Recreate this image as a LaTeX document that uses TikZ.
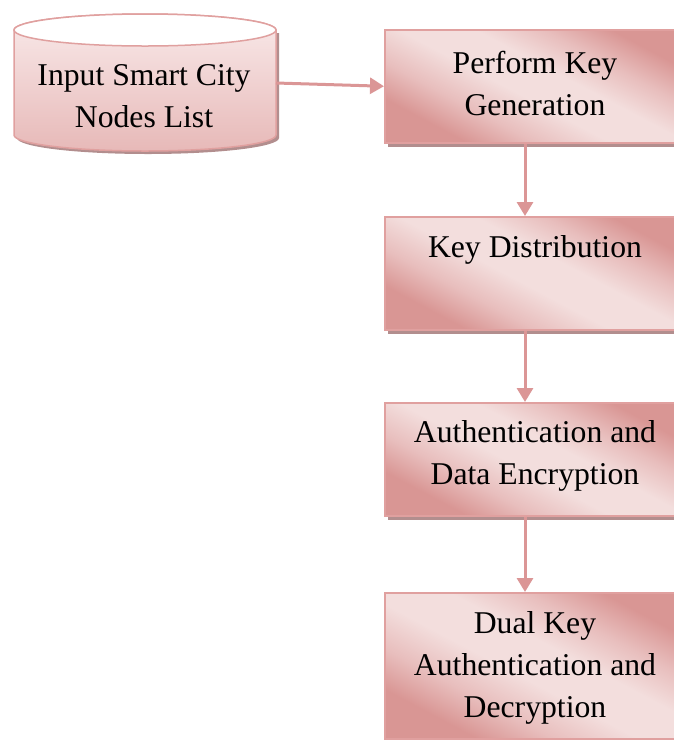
\documentclass[tikz,border=0pt]{standalone}
\usepackage{fontspec}
\setmainfont{Liberation Serif}
\usetikzlibrary{arrows.meta,shadows}

\definecolor{pkdark}{RGB}{217,150,148}
\definecolor{pkmid}{RGB}{232,190,189}
\definecolor{pklight}{RGB}{243,222,221}
\definecolor{pkline}{RGB}{224,160,159}
\definecolor{pkshadow}{RGB}{178,142,142}
\definecolor{pkarrow}{RGB}{219,150,150}
\definecolor{cyltop}{RGB}{249,234,234}
\definecolor{cylbot}{RGB}{231,185,184}

\pgfdeclarehorizontalshading{boxshade}{100bp}{%
  color(0bp)=(pkdark); color(27bp)=(pkdark); color(36bp)=(pkmid);
  color(46bp)=(pklight); color(56bp)=(pklight); color(65bp)=(pkmid);
  color(74bp)=(pkdark); color(100bp)=(pkdark)}
\pgfdeclareverticalshading{cylshade}{100bp}{%
  color(0bp)=(cylbot); color(25bp)=(cylbot); color(75bp)=(cyltop);
  color(100bp)=(cyltop)}

\tikzset{
  stepbox/.style={rectangle, draw=pkline, line width=1.5pt, inner sep=0pt,
    shading=boxshade, shading angle=62, anchor=north west,
    minimum width=302pt,
    general shadow={fill=pkshadow, shadow xshift=3pt, shadow yshift=-4pt}},
  steptext/.style={anchor=base, inner sep=0pt,
    font=\fontsize{31.7pt}{42pt}\selectfont},
  flow/.style={draw=pkarrow, line width=3pt,
    -{Triangle[width=16pt,length=14pt]}},
}
\setlength{\tabcolsep}{0pt}

\begin{document}
\begin{tikzpicture}[x=1pt,y=-1pt]
\useasboundingbox (0,0) rectangle (674,740);

% source data store (cylinder)
\fill[pkshadow] (17,33) -- (17,138)
  arc[start angle=180,end angle=360,x radius=131pt,y radius=16pt]
  -- (279,33) -- cycle;
\shade[shading=cylshade, draw=pkline, line width=1.5pt] (14,30) -- (14,135)
  arc[start angle=180,end angle=360,x radius=131pt,y radius=16pt]
  -- (276,30)
  arc[start angle=0,end angle=180,x radius=131pt,y radius=16pt] -- cycle;
\draw[pkline, line width=1.5pt, fill=white] (145,30)
  ellipse[x radius=131pt, y radius=16pt];
\node[steptext] (src) at (144,85)
  {\begin{tabular}[t]{c}Input Smart City\\Nodes List\end{tabular}};
\coordinate (srcE) at (276,83);

% processing steps
\node[stepbox, minimum height=113pt] (b1) at (384,29) {};
\node[stepbox, minimum height=113pt] (b2) at (384,216) {};
\node[stepbox, minimum height=113pt] (b3) at (384,402) {};
\node[stepbox, minimum height=146pt] (b4) at (384,592) {};

\node[steptext] (t1) at ([xshift=151pt,yshift=-44pt]b1.north west)
  {\begin{tabular}[t]{c}Perform Key\\Generation\end{tabular}};
\node[steptext] (t2) at ([xshift=151pt,yshift=-41pt]b2.north west)
  {\begin{tabular}[t]{c}Key Distribution\end{tabular}};
\node[steptext] (t3) at ([xshift=151pt,yshift=-40pt]b3.north west)
  {\begin{tabular}[t]{c}Authentication and\\Data Encryption\end{tabular}};
\node[steptext] (t4) at ([xshift=151pt,yshift=-41pt]b4.north west)
  {\begin{tabular}[t]{c}Dual Key\\Authentication and\\Decryption\end{tabular}};

% connectors
\draw[flow] (srcE) -- (b1.west);
\draw[flow] ([xshift=141pt]b1.south west) -- ([xshift=141pt]b2.north west);
\draw[flow] ([xshift=141pt]b2.south west) -- ([xshift=141pt]b3.north west);
\draw[flow] ([xshift=141pt]b3.south west) -- ([xshift=141pt]b4.north west);
\end{tikzpicture}
\end{document}
